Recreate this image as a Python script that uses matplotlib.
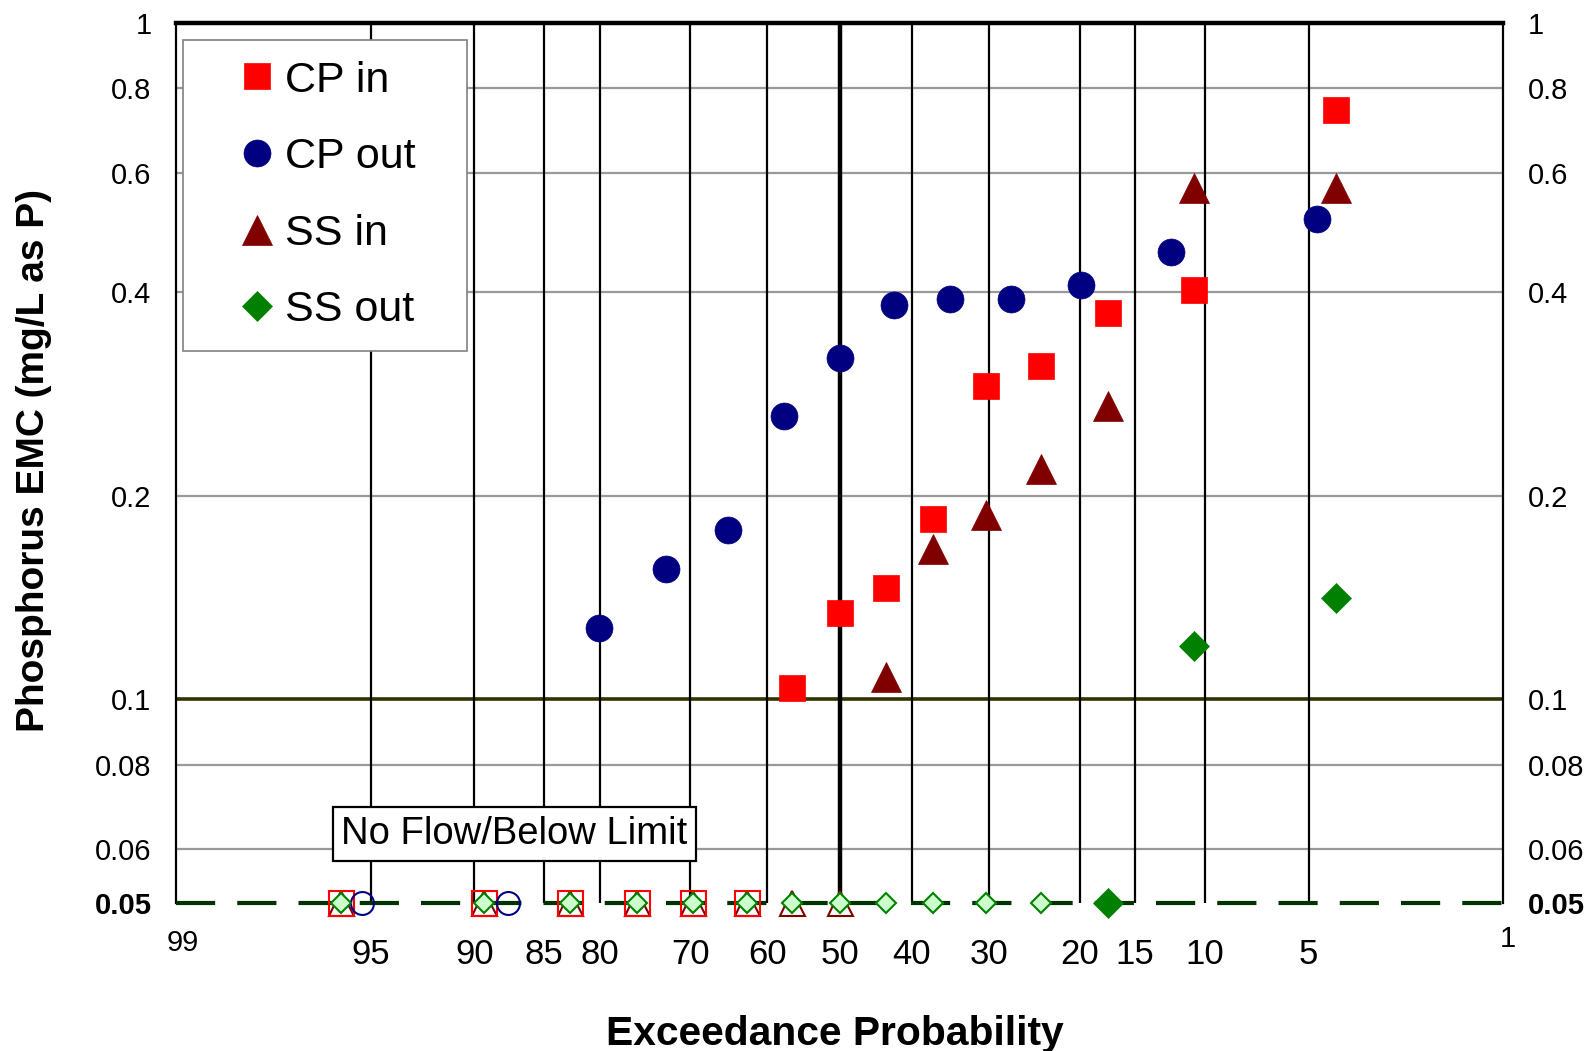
import matplotlib
matplotlib.use("Agg")
import matplotlib.pyplot as plt
from matplotlib.ticker import NullLocator
from statistics import NormalDist

plt.rcParams['font.family'] = ['Liberation Sans', 'DejaVu Sans']

# exceedance probability (%) and EMC (mg/L as P)
cp_in_p = [4.1, 10.7, 17.3, 24.0, 30.4, 37.2, 43.5, 50.0, 56.6]
cp_in_v = [0.743, 0.402, 0.372, 0.311, 0.290, 0.185, 0.146, 0.134, 0.104]
cp_in_bl = [62.8, 69.7, 76.2, 82.8, 89.4, 96.0]

cp_out_p = [4.7, 12.3, 19.9, 27.4, 34.9, 42.4, 50.0, 57.7, 65.2, 72.9, 80.1]
cp_out_v = [0.513, 0.458, 0.409, 0.391, 0.391, 0.383, 0.320, 0.262, 0.178, 0.156, 0.1275]
cp_out_bl = [87.8, 95.3]

ss_in_p = [4.1, 10.7, 17.3, 24.0, 30.4, 37.2, 43.5]
ss_in_v = [0.569, 0.569, 0.271, 0.219, 0.187, 0.167, 0.108]
ss_in_bl = [50.0, 56.6, 62.8, 69.7, 76.2, 82.8, 89.4, 96.0]

ss_out_p = [4.1, 10.7, 17.3]
ss_out_v = [0.141, 0.120, 0.05]
ss_out_bl = [24.0, 30.4, 37.2, 43.5, 50.0, 56.6, 62.8, 69.7, 76.2, 82.8, 89.4, 96.0]

limit = 0.05
xgrid = [95, 90, 85, 80, 70, 60, 50, 40, 30, 20, 15, 10, 5]
yticks = [0.05, 0.06, 0.08, 0.1, 0.2, 0.4, 0.6, 0.8, 1]
ylabels = ['0.05', '0.06', '0.08', '0.1', '0.2', '0.4', '0.6', '0.8', '1']
hgrid = [0.8, 0.6, 0.4, 0.2, 0.08, 0.06]

nd = NormalDist()


def zpos(ps):
    if isinstance(ps, (int, float)):
        return nd.inv_cdf(1 - ps / 100.0)
    return [nd.inv_cdf(1 - p / 100.0) for p in ps]


fig = plt.figure(figsize=(15.91, 10.51), dpi=100)
ax = fig.add_axes([0.1109, 0.1408, 0.8338, 0.8376])
ax.set_yscale('log')
ax.set_xlim(zpos(99), zpos(1))
ax.set_ylim(0.05, 1)

for v in hgrid:
    ax.axhline(v, color='#999999', lw=1.6, zorder=1)
ax.axhline(0.1, color='#333300', lw=2.6, zorder=2)
for p in xgrid:
    ax.axvline(zpos(p), color='black', lw=3.2 if p == 50 else 1.6, zorder=2)
ax.axhline(1, color='black', lw=3.2, zorder=3, clip_on=False)
ax.axhline(limit, color='#003300', lw=3, linestyle=(0, (9.4, 5.3)), zorder=4, clip_on=False)

for s in ['top', 'bottom']:
    ax.spines[s].set_visible(False)
for s in ['left', 'right']:
    ax.spines[s].set_linewidth(1.6)

# below limit markers
ax.plot(zpos(ss_in_bl), [limit] * len(ss_in_bl), ls='none', marker='^', ms=18,
        mfc='white', mec='#800000', mew=1.5, zorder=5, clip_on=False)
ax.plot(zpos(cp_in_bl), [limit] * len(cp_in_bl), ls='none', marker='s', ms=18,
        mfc='none', mec='red', mew=1.5, zorder=6, clip_on=False)
ax.plot(zpos(cp_out_bl), [limit] * len(cp_out_bl), ls='none', marker='o', ms=16.5,
        mfc='none', mec='#000080', mew=1.5, zorder=6, clip_on=False)
ax.plot(zpos(ss_out_bl), [limit] * len(ss_out_bl), ls='none', marker='D', ms=10.5,
        mfc='#ccffcc', mec='#008000', mew=1.5, zorder=7, clip_on=False)

# detected values
ax.plot(zpos(cp_in_p), cp_in_v, ls='none', marker='s', ms=19.4, color='red',
        mew=0.5, label='CP in', zorder=8, clip_on=False)
ax.plot(zpos(cp_out_p), cp_out_v, ls='none', marker='o', ms=19.4, color='#000080',
        mew=0.5, label='CP out', zorder=8, clip_on=False)
ax.plot(zpos(ss_in_p), ss_in_v, ls='none', marker='^', ms=21.5, color='#800000',
        mew=0.5, label='SS in', zorder=8, clip_on=False)
ax.plot(zpos(ss_out_p), ss_out_v, ls='none', marker='D', ms=15.3, color='#008000',
        mew=0.5, label='SS out', zorder=8, clip_on=False)

ax.set_yticks(yticks)
ax.set_yticklabels(ylabels)
ax.yaxis.set_minor_locator(NullLocator())
ax.tick_params(axis='y', which='both', length=0, labelsize=21, labelleft=True,
               labelright=True, pad=18)
for lab in ax.yaxis.get_majorticklabels():
    if lab.get_text() == '0.05':
        lab.set_fontweight('bold')

ax.set_xticks(zpos(xgrid))
ax.set_xticklabels([str(p) for p in xgrid])
ax.tick_params(axis='x', length=0, labelsize=25, pad=25)
ax.text(0.005, -0.045, '99', transform=ax.transAxes, ha='center', va='center', fontsize=21)
ax.text(1.0038, -0.041, '1', transform=ax.transAxes, ha='center', va='center', fontsize=21)

ax.set_xlabel('Exceedance Probability', fontsize=29.3, fontweight='bold')
ax.xaxis.set_label_coords(0.4965, -0.127)
fig.text(0.0214, 0.5623, 'Phosphorus EMC (mg/L as P)', rotation=90, ha='center',
         va='center', fontsize=28, fontweight='bold')

ax.text(0.2548, 0.0784, 'No Flow/Below Limit', transform=ax.transAxes, ha='center',
        va='center', fontsize=27.5, zorder=9,
        bbox=dict(boxstyle='square,pad=0.23', fc='white', ec='black', lw=1.6))

leg = ax.legend(loc='upper left', bbox_to_anchor=(0.0049, 0.63, 0.2141, 0.35),
                mode='expand', borderaxespad=0, fontsize=31, fancybox=False,
                framealpha=1, edgecolor='#808080', borderpad=0.47,
                handlelength=2.51, handletextpad=-0.60, labelspacing=0.85)
leg.get_frame().set_linewidth(1.2)
leg.set_zorder(10)

fig.savefig('out.png', dpi=100)
